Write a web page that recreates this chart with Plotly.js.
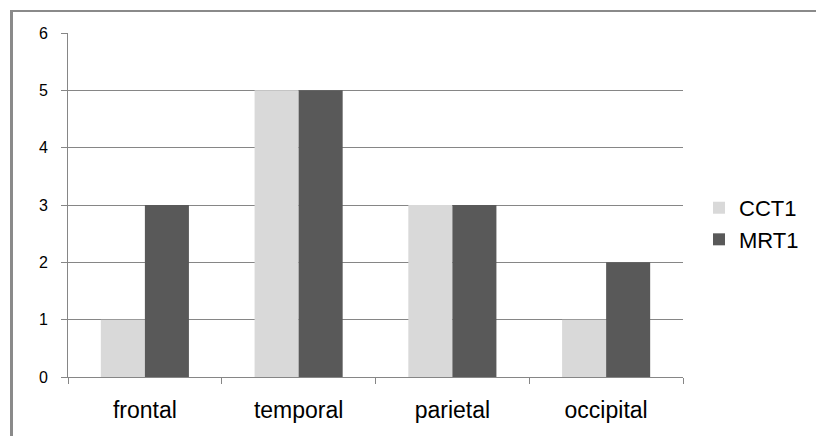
<!DOCTYPE html>
<html>
<head>
<meta charset="utf-8">
<script src="https://cdn.plot.ly/plotly-3.0.1.min.js"></script>
<style>
html,body{margin:0;padding:0;background:#fff;}
#chart{width:816px;height:436px;position:relative;}
#frameL{position:absolute;left:10px;top:10px;width:3px;height:426px;background:#8a8a8a;pointer-events:none;}
#frameT{position:absolute;left:10px;top:10px;width:806px;height:2px;background:#8a8a8a;pointer-events:none;}
</style>
</head>
<body>
<div id="chart"></div>
<div id="frameL"></div>
<div id="frameT"></div>
<script>
const categories = ["frontal", "temporal", "parietal", "occipital"];
const cct1 = [1, 5, 3, 1];
const mrt1 = [3, 5, 3, 2];
const yTicks = [0, 1, 2, 3, 4, 5, 6];

const data = [
  {type: 'bar', name: 'CCT1', x: categories, y: cct1, marker: {color: '#d9d9d9'}},
  {type: 'bar', name: 'MRT1', x: categories, y: mrt1, marker: {color: '#595959'}}
];

const layout = {
  width: 816, height: 436,
  margin: {l: 68, r: 133, t: 33, b: 59},
  paper_bgcolor: '#fff', plot_bgcolor: '#fff',
  font: {family: 'Liberation Sans, Arial, sans-serif', color: '#000'},
  barmode: 'group', bargap: 0.427, bargroupgap: 0,
  showlegend: true,
  legend: {x: 1.026, xanchor: 'left', y: 0.445, yanchor: 'middle',
           font: {size: 22, color: '#000'}, tracegroupgap: 0, itemwidth: 30},
  xaxis: {
    type: 'category', tickson: 'boundaries', ticks: 'outside', ticklen: 6,
    tickcolor: '#868686', showline: true, linecolor: '#868686', linewidth: 1,
    showgrid: false, tickfont: {size: 23, color: '#000'}, ticklabelstandoff: 12,
    fixedrange: true
  },
  yaxis: {
    range: [0, 6], tickvals: yTicks, ticktext: yTicks.map(String),
    ticks: 'outside', ticklen: 6, tickcolor: '#868686',
    showline: true, linecolor: '#868686', linewidth: 1,
    showgrid: true, gridcolor: '#868686', gridwidth: 1, zeroline: false,
    tickfont: {size: 16, color: '#000'}, ticklabelstandoff: 10, fixedrange: true
  }
};

Plotly.newPlot('chart', data, layout, {displayModeBar: false, staticPlot: true});
</script>
</body>
</html>
